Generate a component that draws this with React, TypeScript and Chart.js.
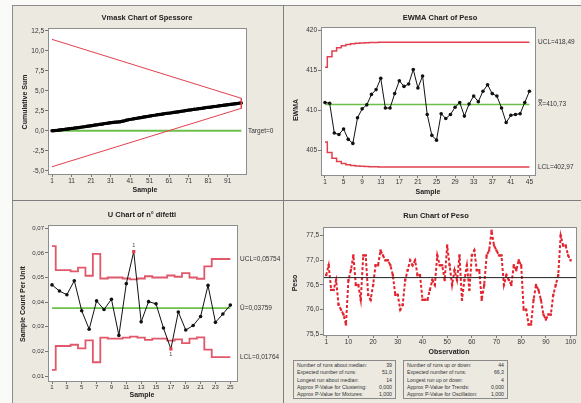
import React, { useEffect, useRef } from 'react';
import { Chart, registerables } from 'chart.js';

Chart.register(...registerables);

const FONT = '"Liberation Sans", Arial, Helvetica, sans-serif';
const RED = '#e2404e';
const PINK = '#e0586a';
const GREEN = '#6cc04a';
const BG = '#ece9e1';

// ---------------- Vmask chart of Spessore ----------------
const vmaskCusum = [
  0.0, 0.01, 0.04, 0.05, 0.09, 0.12, 0.14, 0.18, 0.21, 0.25,
  0.29, 0.31, 0.35, 0.37, 0.41, 0.45, 0.48, 0.51, 0.56, 0.59,
  0.63, 0.66, 0.71, 0.73, 0.77, 0.81, 0.84, 0.89, 0.92, 0.96,
  1.0, 1.02, 1.05, 1.08, 1.1, 1.13, 1.18, 1.23, 1.3, 1.36,
  1.42, 1.45, 1.5, 1.54, 1.58, 1.63, 1.66, 1.71, 1.75, 1.79,
  1.83, 1.87, 1.92, 1.95, 1.99, 2.03, 2.05, 2.1, 2.14, 2.17,
  2.2, 2.23, 2.27, 2.31, 2.34, 2.38, 2.42, 2.45, 2.5, 2.54,
  2.58, 2.6, 2.64, 2.68, 2.7, 2.75, 2.78, 2.81, 2.85, 2.89,
  2.92, 2.94, 2.98, 3.02, 3.04, 3.08, 3.12, 3.14, 3.18, 3.22,
  3.25, 3.27, 3.31, 3.35, 3.37, 3.41, 3.45, 3.47,
];
const vmaskMaskX = [1, 98, 98, 1];
const vmaskMaskY = [11.42, 4.05, 2.8, -4.5];
const vmaskTarget = 0;
const vmaskXTicks = [1, 11, 21, 31, 41, 51, 61, 71, 81, 91];
const vmaskYTicks = [-5, -2.5, 0, 2.5, 5, 7.5, 10, 12.5];

// ---------------- EWMA chart of Peso ----------------
const ewmaValues = [
  411.0, 410.9, 407.2, 407.0, 407.7, 406.4, 405.9, 409.1, 410.2, 410.7,
  412.0, 412.6, 414.0, 410.3, 410.3, 412.1, 413.7, 413.0, 413.3, 415.1,
  412.8, 414.3, 409.5, 406.9, 406.3, 409.6, 409.0, 409.5, 410.4, 411.0,
  409.3, 410.8, 411.8, 411.1, 412.4, 413.2, 412.1, 411.8, 410.3, 408.5,
  409.4, 409.5, 409.6, 411.0, 412.4,
];
const ewmaUCL = [
  415.39, 416.69, 417.4, 417.81, 418.06, 418.22, 418.32, 418.38, 418.42, 418.45,
  418.47, 418.48, 418.49, 418.49, 418.49, 418.49, 418.49, 418.49, 418.49, 418.49,
  418.49, 418.49, 418.49, 418.49, 418.49, 418.49, 418.49, 418.49, 418.49, 418.49,
  418.49, 418.49, 418.49, 418.49, 418.49, 418.49, 418.49, 418.49, 418.49, 418.49,
  418.49, 418.49, 418.49, 418.49, 418.49,
];
const ewmaLCL = [
  406.07, 404.77, 404.06, 403.65, 403.4, 403.24, 403.14, 403.08, 403.04, 403.01,
  402.99, 402.98, 402.97, 402.97, 402.97, 402.97, 402.97, 402.97, 402.97, 402.97,
  402.97, 402.97, 402.97, 402.97, 402.97, 402.97, 402.97, 402.97, 402.97, 402.97,
  402.97, 402.97, 402.97, 402.97, 402.97, 402.97, 402.97, 402.97, 402.97, 402.97,
  402.97, 402.97, 402.97, 402.97, 402.97,
];
const ewmaCenter = 410.73;
const ewmaXTicks = [1, 5, 9, 13, 17, 21, 25, 29, 33, 37, 41, 45];
const ewmaYTicks = [405, 410, 415, 420];

// ---------------- U chart of n° difetti ----------------
const uValues = [
  0.047, 0.0445, 0.043, 0.0487, 0.0365, 0.029, 0.0405, 0.037, 0.0412, 0.0265,
  0.0475, 0.0605, 0.032, 0.0402, 0.0393, 0.0295, 0.021, 0.036, 0.0287, 0.0305,
  0.0342, 0.0468, 0.0318, 0.0352, 0.0388,
];
const uUCL = [
  0.0627, 0.053, 0.053, 0.0525, 0.054, 0.0507, 0.0596, 0.0496, 0.05, 0.05,
  0.0496, 0.0492, 0.0496, 0.0505, 0.05, 0.05, 0.0508, 0.0503, 0.0518, 0.05,
  0.0495, 0.0545, 0.0575, 0.0575, 0.0575,
];
const uLCL = [
  0.0125, 0.0222, 0.0222, 0.0227, 0.0212, 0.0245, 0.0156, 0.0256, 0.0252, 0.0252,
  0.0256, 0.026, 0.0256, 0.0247, 0.0252, 0.0252, 0.0244, 0.0249, 0.0234, 0.0252,
  0.0257, 0.0207, 0.0177, 0.0177, 0.0177,
];
const uCenter = 0.03759;
const uOutOfControl = [12, 17];
const uXTicks = [1, 3, 5, 7, 9, 11, 13, 15, 17, 19, 21, 23, 25];
const uYTicks = [0.01, 0.02, 0.03, 0.04, 0.05, 0.06, 0.07];

// ---------------- Run chart of Peso ----------------
const runValues = [
  76.7, 76.9, 76.4, 76.4, 76.6, 76.1, 76.0, 75.9, 75.7, 76.6,
  76.8, 77.1, 76.5, 76.5, 76.2, 77.1, 77.1, 76.3, 76.2, 76.5,
  76.9, 76.9, 77.2, 77.1, 77.0, 77.0, 76.9, 76.7, 76.3, 76.3,
  76.0, 76.1, 76.6, 76.8, 77.0, 76.9, 77.0, 76.7, 76.7, 76.2,
  76.2, 76.2, 76.4, 76.6, 76.5, 77.1, 76.9, 76.9, 76.6, 77.3,
  76.9, 76.5, 76.8, 76.6, 77.1, 76.2, 76.6, 76.9, 76.4, 77.1,
  77.2, 76.8, 76.8, 76.2, 76.5, 77.1, 77.2, 77.6, 77.3, 77.2,
  77.1, 77.1, 76.5, 76.7, 76.6, 76.5, 76.9, 76.8, 77.0, 76.9,
  76.0, 76.0, 75.7, 75.7, 76.2, 76.5, 76.4, 76.2, 75.9, 75.8,
  75.9, 75.9, 76.3, 76.5, 76.7, 77.5, 77.3, 77.3, 77.1, 77.0,
];
const runMedian = 76.65;
const runXTicks = [1, 10, 20, 30, 40, 50, 60, 70, 80, 90, 100];
const runYTicks = [75.5, 76, 76.5, 77, 77.5];
const runStatsLeft: [string, string][] = [
  ['Number of runs about median:', '39'],
  ['Expected number of runs:', '51,0'],
  ['Longest run about median:', '14'],
  ['Approx P-Value for Clustering:', '0,000'],
  ['Approx P-Value for Mixtures:', '1,000'],
];
const runStatsRight: [string, string][] = [
  ['Number of runs up or down:', '44'],
  ['Expected number of runs:', '66,3'],
  ['Longest run up or down:', '4'],
  ['Approx P-Value for Trends:', '0,000'],
  ['Approx P-Value for Oscillation:', '1,000'],
];

// ---------------- helpers ----------------
const pts = (ys: number[]) => ys.map((y, i) => ({ x: i + 1, y }));
const comma = (d: number) => (v: number) => v.toFixed(d).replace('.', ',');

type Txt = {
  t: string;
  x: number;
  y?: number;
  v?: number;
  font: string;
  align?: CanvasTextAlign;
  rot?: boolean;
  color?: string;
};

type AxisSpec = { min: number; max: number; ticks: number[]; fmt: (v: number) => string };

type PanelSpec = {
  box: { left: number; top: number; w: number; h: number };
  plot: { l: number; t: number; r: number; b: number };
  x: AxisSpec;
  y: AxisSpec;
  tickSize?: number;
  datasets: any[];
  texts: Txt[];
  extra?: (chart: any, ox: number, oy: number) => void;
};

function axis(a: AxisSpec, isX: boolean, size: number, tickSize: number) {
  return {
    type: 'linear',
    min: a.min,
    max: a.max,
    afterBuildTicks: (s: any) => {
      s.ticks = a.ticks.map((v) => ({ value: v }));
    },
    afterFit: (s: any) => {
      if (isX) s.height = size;
      else s.width = size;
    },
    grid: { drawOnChartArea: false, drawTicks: true, tickLength: 3, color: '#777', lineWidth: 1 },
    border: { display: true, color: '#8d8d8d', width: 1 },
    ticks: {
      callback: (v: number) => a.fmt(v),
      font: { family: FONT, size: tickSize },
      color: '#333',
      padding: isX ? 0 : 1,
      autoSkip: false,
      maxRotation: 0,
      minRotation: 0,
    },
  };
}

function buildConfig(spec: PanelSpec): any {
  const ox = spec.box.left;
  const oy = spec.box.top;
  const yW = spec.plot.l - ox;
  const xH = oy + spec.box.h - spec.plot.b;
  const padTop = spec.plot.t - oy;
  const padRight = ox + spec.box.w - spec.plot.r;
  const ts = spec.tickSize ?? 6.5;
  const deco = {
    id: 'deco',
    beforeDraw(chart: any) {
      const { ctx, chartArea: ca } = chart;
      ctx.save();
      ctx.fillStyle = '#ffffff';
      ctx.fillRect(ca.left, ca.top, ca.right - ca.left, ca.bottom - ca.top);
      ctx.restore();
    },
    afterDraw(chart: any) {
      const { ctx, chartArea: ca } = chart;
      ctx.save();
      ctx.strokeStyle = '#8d8d8d';
      ctx.lineWidth = 1;
      ctx.strokeRect(Math.round(ca.left) + 0.5, Math.round(ca.top) + 0.5, Math.round(ca.right - ca.left), Math.round(ca.bottom - ca.top));
      ctx.textBaseline = 'middle';
      for (const t of spec.texts) {
        ctx.font = t.font;
        ctx.fillStyle = t.color ?? '#222';
        ctx.textAlign = t.align ?? 'center';
        const x = t.x - ox;
        const y = t.v !== undefined ? chart.scales.y.getPixelForValue(t.v) : (t.y as number) - oy;
        if (t.rot) {
          ctx.save();
          ctx.translate(x, y);
          ctx.rotate(-Math.PI / 2);
          ctx.fillText(t.t, 0, 0);
          ctx.restore();
        } else {
          ctx.fillText(t.t, x, y);
        }
      }
      if (spec.extra) spec.extra(chart, ox, oy);
      ctx.restore();
    },
  };
  return {
    type: 'line',
    data: { datasets: spec.datasets },
    options: {
      responsive: false,
      animation: false,
      devicePixelRatio: 1,
      layout: { padding: { left: 0, top: padTop, right: padRight, bottom: 0 } },
      plugins: { legend: { display: false }, tooltip: { enabled: false }, title: { display: false } },
      scales: { x: axis(spec.x, true, xH, ts), y: axis(spec.y, false, yW, ts) },
      elements: { line: { tension: 0 } },
    },
    plugins: [deco],
  };
}

function Panel({ spec }: { spec: PanelSpec }) {
  const ref = useRef<HTMLCanvasElement>(null);
  useEffect(() => {
    const chart = new Chart(ref.current as HTMLCanvasElement, buildConfig(spec));
    return () => chart.destroy();
  }, []);
  const { left, top, w, h } = spec.box;
  return (
    <div style={{ position: 'absolute', left, top, width: w, height: h }}>
      <canvas ref={ref} width={w} height={h} style={{ width: w, height: h, display: 'block' }} />
    </div>
  );
}

const TITLE = `bold 7.5px ${FONT}`;
const AXT = `bold 7px ${FONT}`;
const LBL = `6.5px ${FONT}`;

// ---------------- panel specs ----------------
const vmaskSpec: PanelSpec = {
  box: { left: 13, top: 7, w: 270, h: 193 },
  plot: { l: 48, t: 28, r: 246, b: 174 },
  x: { min: -1.05, max: 100.4, ticks: vmaskXTicks, fmt: (v) => String(v) },
  y: { min: -5.41, max: 12.84, ticks: vmaskYTicks, fmt: comma(1) },
  datasets: [
    {
      data: vmaskMaskX.map((x, i) => ({ x, y: vmaskMaskY[i] })),
      borderColor: RED,
      borderWidth: 1,
      pointRadius: 0,
    },
    {
      data: pts(vmaskCusum),
      borderColor: '#000',
      backgroundColor: '#000',
      borderWidth: 3,
      pointRadius: 1.7,
      pointBorderWidth: 0,
    },
    {
      data: [
        { x: 1, y: vmaskTarget },
        { x: vmaskCusum.length, y: vmaskTarget },
      ],
      borderColor: GREEN,
      borderWidth: 2,
      pointRadius: 0,
    },
  ],
  texts: [
    { t: 'Vmask Chart of Spessore', x: 147, y: 18, font: TITLE },
    { t: 'Sample', x: 145, y: 190, font: AXT },
    { t: 'Cumulative Sum', x: 25, y: 102, font: AXT, rot: true },
    { t: 'Target=0', x: 248, v: vmaskTarget, font: LBL, align: 'left', color: '#333' },
  ],
};

const ewmaSpec: PanelSpec = {
  box: { left: 284, top: 7, w: 297, h: 193 },
  plot: { l: 321, t: 27, r: 535, b: 175 },
  x: { min: 0.14, max: 46.2, ticks: ewmaXTicks, fmt: (v) => String(v) },
  y: { min: 401.96, max: 420.4, ticks: ewmaYTicks, fmt: (v) => String(v) },
  datasets: [
    {
      data: pts(ewmaValues),
      borderColor: '#111',
      backgroundColor: '#111',
      borderWidth: 1,
      pointRadius: 1.8,
      pointBorderWidth: 0,
    },
    {
      data: pts(ewmaUCL),
      borderColor: RED,
      borderWidth: 1.5,
      pointRadius: 0,
      stepped: 'middle',
    },
    {
      data: pts(ewmaLCL),
      borderColor: RED,
      borderWidth: 1.5,
      pointRadius: 0,
      stepped: 'middle',
    },
    {
      data: [
        { x: 1, y: ewmaCenter },
        { x: ewmaValues.length, y: ewmaCenter },
      ],
      borderColor: GREEN,
      borderWidth: 1.5,
      pointRadius: 0,
    },
  ],
  texts: [
    { t: 'EWMA Chart of Peso', x: 440, y: 18, font: TITLE },
    { t: 'Sample', x: 428, y: 192, font: AXT },
    { t: 'EWMA', x: 296, y: 110, font: AXT, rot: true },
    { t: 'UCL=418,49', x: 538, v: 418.49, font: LBL, align: 'left', color: '#333' },
    { t: 'X\u033F=410,73', x: 538, v: ewmaCenter, font: LBL, align: 'left', color: '#333' },
    { t: 'LCL=402,97', x: 538, v: 402.97, font: LBL, align: 'left', color: '#333' },
  ],
};

const uSpec: PanelSpec = {
  box: { left: 13, top: 201, w: 270, h: 202 },
  plot: { l: 48, t: 225, r: 237, b: 381 },
  x: { min: 0.46, max: 25.9, ticks: uXTicks, fmt: (v) => String(v) },
  y: { min: 0.008, max: 0.0713, ticks: uYTicks, fmt: comma(2) },
  tickSize: 6,
  datasets: [
    {
      data: pts(uValues),
      borderColor: '#111',
      backgroundColor: uValues.map((_, i) => (uOutOfControl.includes(i + 1) ? RED : '#111')),
      borderWidth: 1,
      pointRadius: uValues.map((_, i) => (uOutOfControl.includes(i + 1) ? 2.3 : 1.8)),
      pointStyle: uValues.map((_, i) => (uOutOfControl.includes(i + 1) ? 'rect' : 'circle')),
      pointBorderWidth: 0,
    },
    {
      data: pts(uUCL),
      borderColor: PINK,
      borderWidth: 1.8,
      pointRadius: 0,
      stepped: 'middle',
    },
    {
      data: pts(uLCL),
      borderColor: PINK,
      borderWidth: 1.8,
      pointRadius: 0,
      stepped: 'middle',
    },
    {
      data: [
        { x: 1, y: uCenter },
        { x: uValues.length, y: uCenter },
      ],
      borderColor: GREEN,
      borderWidth: 1.8,
      pointRadius: 0,
    },
  ],
  texts: [
    { t: 'U Chart of n\u00B0 difetti', x: 142, y: 215, font: TITLE },
    { t: 'Sample', x: 142, y: 395, font: AXT },
    { t: 'Sample Count Per Unit', x: 23, y: 304, font: AXT, rot: true },
    { t: 'UCL=0,05754', x: 240, v: 0.05754, font: LBL, align: 'left', color: '#333' },
    { t: '\u016A=0,03759', x: 240, v: uCenter, font: LBL, align: 'left', color: '#333' },
    { t: 'LCL=0,01764', x: 240, v: 0.01764, font: LBL, align: 'left', color: '#333' },
  ],
  extra: (chart) => {
    const { ctx, scales } = chart;
    ctx.font = `5.5px ${FONT}`;
    ctx.fillStyle = '#444';
    ctx.textAlign = 'center';
    uOutOfControl.forEach((s) => {
      const v = uValues[s - 1];
      const x = scales.x.getPixelForValue(s);
      const y = scales.y.getPixelForValue(v);
      const above = v > uCenter;
      ctx.fillText('1', x, above ? y - 6 : y + 6);
    });
  },
};

const runSpec: PanelSpec = {
  box: { left: 284, top: 201, w: 297, h: 158 },
  plot: { l: 323, t: 227, r: 576, b: 335 },
  x: { min: -0.3, max: 102.2, ticks: runXTicks, fmt: (v) => String(v) },
  y: { min: 75.486, max: 77.676, ticks: runYTicks, fmt: comma(1) },
  datasets: [
    {
      data: [
        { x: -0.3, y: runMedian },
        { x: 102.2, y: runMedian },
      ],
      borderColor: '#222',
      borderWidth: 1,
      pointRadius: 0,
    },
    {
      data: pts(runValues),
      borderColor: '#e3232e',
      backgroundColor: '#e3232e',
      borderWidth: 2,
      borderDash: [3, 2],
      pointRadius: 1.6,
      pointStyle: 'rect',
      pointBorderWidth: 0,
    },
  ],
  texts: [
    { t: 'Run Chart of Peso', x: 436, y: 216, font: TITLE },
    { t: 'Observation', x: 449, y: 352, font: AXT },
    { t: 'Peso', x: 295, y: 283, font: AXT, rot: true },
  ],
};

function StatsBox({ left, rows, width }: { left: number; rows: [string, string][]; width: number }) {
  return (
    <div
      style={{
        position: 'absolute',
        left,
        top: 360,
        width,
        height: 39,
        border: '1px solid #8a8a8a',
        boxSizing: 'border-box',
        padding: '1px 3px 0 3px',
        fontSize: 5.2,
        lineHeight: '7.3px',
        color: '#333',
        fontFamily: FONT,
      }}
    >
      {rows.map(([k, v]) => (
        <div key={k} style={{ display: 'flex', justifyContent: 'space-between', whiteSpace: 'nowrap' }}>
          <span>{k}</span>
          <span>{v}</span>
        </div>
      ))}
    </div>
  );
}

export default function App() {
  return (
    <div
      style={{
        position: 'absolute',
        left: 0,
        top: 0,
        width: 581,
        height: 403,
        background: '#fafaf8',
        overflow: 'hidden',
        fontFamily: FONT,
      }}
    >
      <div
        style={{
          position: 'absolute',
          left: 12,
          top: 5,
          width: 569,
          height: 398,
          background: BG,
          borderLeft: '1px solid #8c8c8c',
          borderTop: '1px solid #8c8c8c',
        }}
      />
      <div style={{ position: 'absolute', left: 283, top: 5, width: 1, height: 398, background: '#7e7e7e' }} />
      <div style={{ position: 'absolute', left: 12, top: 200, width: 569, height: 1, background: '#7e7e7e' }} />
      <Panel spec={vmaskSpec} />
      <Panel spec={ewmaSpec} />
      <Panel spec={uSpec} />
      <Panel spec={runSpec} />
      <StatsBox left={293} width={103} rows={runStatsLeft} />
      <StatsBox left={403} width={105} rows={runStatsRight} />
    </div>
  );
}
